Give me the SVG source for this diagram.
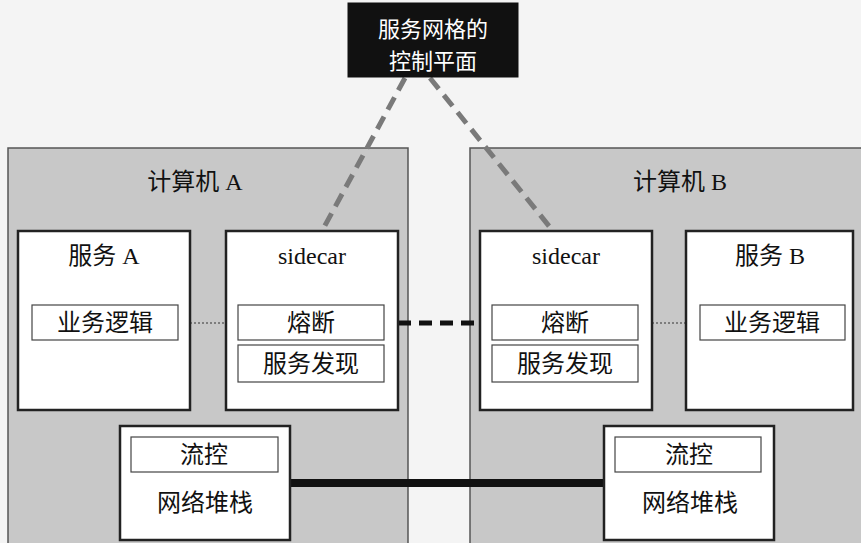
<svg xmlns="http://www.w3.org/2000/svg" width="861" height="543" viewBox="0 0 861 543">
<style>
.bg{fill:#f4f4f4}
.host{fill:#c8c8c8;stroke:#555;stroke-width:1.5}
.box{fill:#fff;stroke:#222;stroke-width:2.5}
.inner{fill:#fff;stroke:#444;stroke-width:1.2}
.t{font-family:"Liberation Serif","Noto Sans CJK SC",serif;font-size:24px;fill:#111;text-anchor:middle;dominant-baseline:central}
.ctl{fill:#111;stroke:#111}
.ct{font-family:"Noto Sans CJK SC",sans-serif;font-size:22px;fill:#fff;text-anchor:middle;dominant-baseline:central}
.cdash{stroke:#7a7a7a;stroke-width:5;stroke-dasharray:14 8;fill:none}
.dot{stroke:#333;stroke-width:1.2;stroke-dasharray:2 2;fill:none}
.bdash{stroke:#111;stroke-width:5;stroke-dasharray:13 8;fill:none}
.thick{stroke:#111;stroke-width:8;fill:none}
</style>
<rect class="bg" x="0" y="0" width="861" height="543"/>
<g id="hostA">
<rect class="host" x="8" y="148" width="400" height="400"/>
<text class="t" x="195" y="182">计算机 A</text>
</g>
<g id="hostB">
<rect class="host" x="470" y="148" width="400" height="400"/>
<text class="t" x="680" y="182">计算机 B</text>
</g>
<g id="connectors">
<line class="cdash" x1="405" y1="78" x2="322" y2="231"/>
<line class="cdash" x1="430" y1="78" x2="553" y2="231"/>
<line class="dot" x1="178" y1="323" x2="226" y2="323"/>
<line class="dot" x1="652" y1="323" x2="700" y2="323"/>
<line class="bdash" x1="398" y1="323" x2="480" y2="323"/>
<line class="thick" x1="290" y1="483" x2="603" y2="483"/>
</g>
<g id="control">
<rect class="ctl" x="348" y="3" width="170" height="74"/>
<text class="ct" x="433" y="27">服务网格的</text>
<text class="ct" x="433" y="59">控制平面</text>
</g>
<g id="serviceA">
<rect class="box" x="18" y="231" width="172" height="179"/>
<text class="t" x="104" y="256">服务 A</text>
<rect class="inner" x="32" y="305" width="146" height="35"/>
<text class="t" x="105" y="323">业务逻辑</text>
</g>
<g id="sidecarA">
<rect class="box" x="226" y="231" width="172" height="179"/>
<text class="t" x="312" y="256">sidecar</text>
<rect class="inner" x="238" y="305" width="146" height="35"/>
<text class="t" x="311" y="323">熔断</text>
<rect class="inner" x="238" y="345" width="146" height="37"/>
<text class="t" x="311" y="364">服务发现</text>
</g>
<g id="sidecarB">
<rect class="box" x="480" y="231" width="172" height="179"/>
<text class="t" x="566" y="256">sidecar</text>
<rect class="inner" x="492" y="305" width="146" height="35"/>
<text class="t" x="565" y="323">熔断</text>
<rect class="inner" x="492" y="345" width="146" height="37"/>
<text class="t" x="565" y="364">服务发现</text>
</g>
<g id="serviceB">
<rect class="box" x="686" y="231" width="167" height="179"/>
<text class="t" x="770" y="256">服务 B</text>
<rect class="inner" x="700" y="305" width="145" height="35"/>
<text class="t" x="772" y="323">业务逻辑</text>
</g>
<g id="netA">
<rect class="box" x="120" y="426" width="170" height="114"/>
<rect class="inner" x="131" y="437" width="147" height="35"/>
<text class="t" x="204" y="455">流控</text>
<text class="t" x="205" y="503">网络堆栈</text>
</g>
<g id="netB">
<rect class="box" x="604" y="426" width="170" height="114"/>
<rect class="inner" x="615" y="437" width="146" height="35"/>
<text class="t" x="689" y="455">流控</text>
<text class="t" x="690" y="503">网络堆栈</text>
</g>
</svg>
